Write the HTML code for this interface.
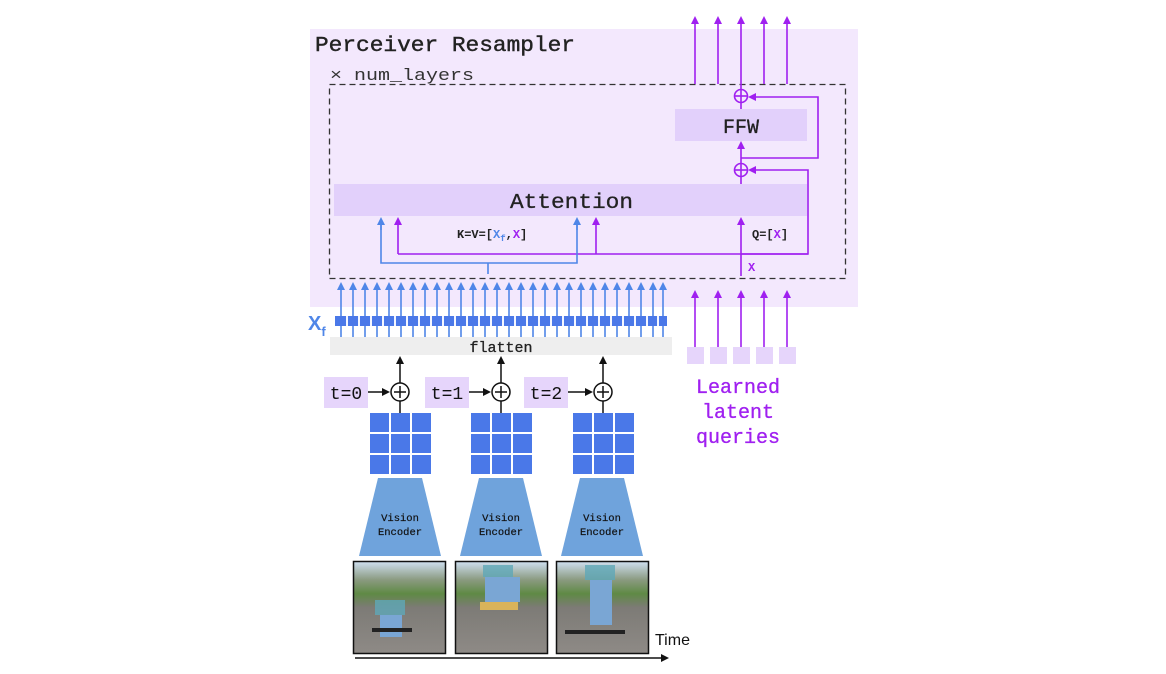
<!DOCTYPE html>
<html><head><meta charset="utf-8"><style>
html,body{margin:0;padding:0;background:#fff;}
svg{display:block;}
.m{font-family:"Liberation Mono","DejaVu Sans Mono",monospace;}
.s{font-family:"Liberation Sans","DejaVu Sans",sans-serif;}
</style></head><body>
<svg width="1166" height="674" viewBox="0 0 1166 674" xmlns="http://www.w3.org/2000/svg">
<defs>
<marker id="ap" markerWidth="8" markerHeight="8" refX="4" refY="4" orient="auto" markerUnits="userSpaceOnUse"><path d="M0,0 L8,4 L0,8 z" fill="#a020f0"/></marker>
<marker id="ab" markerWidth="8" markerHeight="8" refX="4" refY="4" orient="auto" markerUnits="userSpaceOnUse"><path d="M0,0 L8,4 L0,8 z" fill="#4f86e8"/></marker>
<marker id="ak" markerWidth="8" markerHeight="8" refX="4" refY="4" orient="auto" markerUnits="userSpaceOnUse"><path d="M0,0 L8,4 L0,8 z" fill="#111"/></marker>
<linearGradient id="ph" x1="0" y1="0" x2="0" y2="1">
<stop offset="0" stop-color="#cfdff0"/><stop offset="0.2" stop-color="#8a9a80"/><stop offset="0.35" stop-color="#5f8a45"/><stop offset="0.5" stop-color="#7d7b76"/><stop offset="1" stop-color="#8e8a86"/></linearGradient>
</defs>
<rect x="310" y="29" width="548" height="278" fill="#f3e8fd"/>
<text x="315" y="51" class="m" font-size="21" fill="#222" stroke="#222" stroke-width="0.4" textLength="260" lengthAdjust="spacingAndGlyphs">Perceiver Resampler</text>
<text x="330" y="80" class="m" font-size="17" fill="#333" textLength="144" lengthAdjust="spacingAndGlyphs">× num_layers</text>
<rect x="329.5" y="84.5" width="516" height="194" fill="none" stroke="#333" stroke-width="1.3" stroke-dasharray="6,4"/>
<rect x="675" y="109" width="132" height="32" fill="#e2d0fb"/>
<text x="741" y="133" class="m" font-size="20" text-anchor="middle" fill="#222" stroke="#222" stroke-width="0.3">FFW</text>
<rect x="334" y="184" width="473" height="32" fill="#e2d0fb"/>
<text x="510" y="208" class="m" font-size="21" fill="#222" stroke="#222" stroke-width="0.3" textLength="123" lengthAdjust="spacingAndGlyphs">Attention</text>
<g stroke="#a020f0" stroke-width="1.6" marker-end="url(#ap)">
<line x1="695" y1="84" x2="695" y2="20"/><line x1="718" y1="84" x2="718" y2="20"/>
<line x1="741" y1="90" x2="741" y2="20"/><line x1="764" y1="84" x2="764" y2="20"/><line x1="787" y1="84" x2="787" y2="20"/>
<line x1="741" y1="164" x2="741" y2="145"/>
<line x1="741" y1="276" x2="741" y2="221"/>
<line x1="398" y1="254" x2="398" y2="221"/>
<line x1="596" y1="254" x2="596" y2="221"/>
<polyline points="741,158 818,158 818,97 752,97" fill="none"/>
<polyline points="741,254 808,254 808,170 752,170" fill="none"/>
</g>
<g stroke="#a020f0" stroke-width="1.6" fill="none">
<line x1="741" y1="109" x2="741" y2="102"/>
<line x1="741" y1="184" x2="741" y2="176"/>
<line x1="398" y1="254" x2="808" y2="254"/>
<circle cx="741" cy="96" r="6.5"/><line x1="735" y1="96" x2="747" y2="96"/><line x1="741" y1="90" x2="741" y2="102"/>
<circle cx="741" cy="170" r="6.5"/><line x1="735" y1="170" x2="747" y2="170"/><line x1="741" y1="164" x2="741" y2="176"/>
</g>
<g stroke="#4f86e8" stroke-width="1.6" fill="none">
<polyline points="381,221 381,263 577,263 577,221"/>
<line x1="488" y1="263" x2="488" y2="274"/>
</g>
<g stroke="#4f86e8" stroke-width="1.6" marker-end="url(#ab)"><line x1="381" y1="230" x2="381" y2="221"/><line x1="577" y1="230" x2="577" y2="221"/></g>
<text x="457" y="238" class="m" font-size="12" font-weight="bold" fill="#222">K=V=[<tspan fill="#4f86e8">X</tspan><tspan fill="#4f86e8" font-size="9" dy="3">f</tspan><tspan dy="-3">,</tspan><tspan fill="#a020f0">X</tspan>]</text>
<text x="752" y="238" class="m" font-size="12" font-weight="bold" fill="#222">Q=[<tspan fill="#a020f0">X</tspan>]</text>
<text x="748" y="271" class="m" font-size="12" font-weight="bold" fill="#a020f0">X</text>
<g stroke="#4f86e8" stroke-width="1.6" marker-end="url(#ab)">
<line x1="341" y1="337" x2="341" y2="286"/><line x1="353" y1="337" x2="353" y2="286"/><line x1="365" y1="337" x2="365" y2="286"/><line x1="377" y1="337" x2="377" y2="286"/><line x1="389" y1="337" x2="389" y2="286"/><line x1="401" y1="337" x2="401" y2="286"/><line x1="413" y1="337" x2="413" y2="286"/><line x1="425" y1="337" x2="425" y2="286"/><line x1="437" y1="337" x2="437" y2="286"/><line x1="449" y1="337" x2="449" y2="286"/><line x1="461" y1="337" x2="461" y2="286"/><line x1="473" y1="337" x2="473" y2="286"/><line x1="485" y1="337" x2="485" y2="286"/><line x1="497" y1="337" x2="497" y2="286"/><line x1="509" y1="337" x2="509" y2="286"/><line x1="521" y1="337" x2="521" y2="286"/><line x1="533" y1="337" x2="533" y2="286"/><line x1="545" y1="337" x2="545" y2="286"/><line x1="557" y1="337" x2="557" y2="286"/><line x1="569" y1="337" x2="569" y2="286"/><line x1="581" y1="337" x2="581" y2="286"/><line x1="593" y1="337" x2="593" y2="286"/><line x1="605" y1="337" x2="605" y2="286"/><line x1="617" y1="337" x2="617" y2="286"/><line x1="629" y1="337" x2="629" y2="286"/><line x1="641" y1="337" x2="641" y2="286"/><line x1="653" y1="337" x2="653" y2="286"/><line x1="663" y1="337" x2="663" y2="286"/>
</g>
<rect x="335" y="316" width="332" height="10" fill="#4a78e8"/>
<g stroke="#f3f6ff" stroke-width="2">
<line x1="347" y1="316" x2="347" y2="326"/><line x1="359" y1="316" x2="359" y2="326"/><line x1="371" y1="316" x2="371" y2="326"/><line x1="383" y1="316" x2="383" y2="326"/><line x1="395" y1="316" x2="395" y2="326"/><line x1="407" y1="316" x2="407" y2="326"/><line x1="419" y1="316" x2="419" y2="326"/><line x1="431" y1="316" x2="431" y2="326"/><line x1="443" y1="316" x2="443" y2="326"/><line x1="455" y1="316" x2="455" y2="326"/><line x1="467" y1="316" x2="467" y2="326"/><line x1="479" y1="316" x2="479" y2="326"/><line x1="491" y1="316" x2="491" y2="326"/><line x1="503" y1="316" x2="503" y2="326"/><line x1="515" y1="316" x2="515" y2="326"/><line x1="527" y1="316" x2="527" y2="326"/><line x1="539" y1="316" x2="539" y2="326"/><line x1="551" y1="316" x2="551" y2="326"/><line x1="563" y1="316" x2="563" y2="326"/><line x1="575" y1="316" x2="575" y2="326"/><line x1="587" y1="316" x2="587" y2="326"/><line x1="599" y1="316" x2="599" y2="326"/><line x1="611" y1="316" x2="611" y2="326"/><line x1="623" y1="316" x2="623" y2="326"/><line x1="635" y1="316" x2="635" y2="326"/><line x1="647" y1="316" x2="647" y2="326"/><line x1="658" y1="316" x2="658" y2="326"/>
</g>
<text x="308" y="330" class="s" font-size="20" font-weight="bold" fill="#4f86e8">X<tspan font-size="13" dy="6">f</tspan></text>
<rect x="330" y="337" width="342" height="18" fill="#eeeeee"/>
<text x="501" y="352" class="m" font-size="15" text-anchor="middle" fill="#222" stroke="#222" stroke-width="0.3">flatten</text>
<g stroke="#a020f0" stroke-width="1.6" marker-end="url(#ap)">
<line x1="695" y1="348" x2="695" y2="294"/><line x1="718" y1="348" x2="718" y2="294"/><line x1="741" y1="348" x2="741" y2="294"/><line x1="764" y1="348" x2="764" y2="294"/><line x1="787" y1="348" x2="787" y2="294"/>
</g>
<g fill="#e6d5fb"><rect x="687" y="347" width="17" height="17"/><rect x="710" y="347" width="17" height="17"/><rect x="733" y="347" width="17" height="17"/><rect x="756" y="347" width="17" height="17"/><rect x="779" y="347" width="17" height="17"/></g>
<g class="m" font-size="20" fill="#a020f0" stroke="#a020f0" stroke-width="0.3" text-anchor="middle">
<text x="738" y="393">Learned</text><text x="738" y="418">latent</text><text x="738" y="443">queries</text></g>
<rect x="324" y="377" width="44" height="31" fill="#e6d5fb"/>
<text x="346" y="399" class="m" font-size="18" text-anchor="middle" fill="#111">t=0</text>
<rect x="425" y="377" width="44" height="31" fill="#e6d5fb"/>
<text x="447" y="399" class="m" font-size="18" text-anchor="middle" fill="#111">t=1</text>
<rect x="524" y="377" width="44" height="31" fill="#e6d5fb"/>
<text x="546" y="399" class="m" font-size="18" text-anchor="middle" fill="#111">t=2</text>
<g stroke="#111" stroke-width="1.5" fill="none">
<line x1="368" y1="392" x2="386" y2="392" marker-end="url(#ak)"/>
<line x1="469" y1="392" x2="487" y2="392" marker-end="url(#ak)"/>
<line x1="568" y1="392" x2="589" y2="392" marker-end="url(#ak)"/>
<line x1="400" y1="383" x2="400" y2="360" marker-end="url(#ak)"/>
<line x1="501" y1="383" x2="501" y2="360" marker-end="url(#ak)"/>
<line x1="603" y1="383" x2="603" y2="360" marker-end="url(#ak)"/>
<line x1="400" y1="401" x2="400" y2="413"/><line x1="501" y1="401" x2="501" y2="413"/><line x1="603" y1="401" x2="603" y2="413"/>
<circle cx="400" cy="392" r="9" fill="#fff"/><line x1="394" y1="392" x2="406" y2="392"/><line x1="400" y1="386" x2="400" y2="398"/>
<circle cx="501" cy="392" r="9" fill="#fff"/><line x1="495" y1="392" x2="507" y2="392"/><line x1="501" y1="386" x2="501" y2="398"/>
<circle cx="603" cy="392" r="9" fill="#fff"/><line x1="597" y1="392" x2="609" y2="392"/><line x1="603" y1="386" x2="603" y2="398"/>
</g>
<g fill="#4a78e8">
<rect x="370" y="413" width="19" height="19"/><rect x="391" y="413" width="19" height="19"/><rect x="412" y="413" width="19" height="19"/>
<rect x="370" y="434" width="19" height="19"/><rect x="391" y="434" width="19" height="19"/><rect x="412" y="434" width="19" height="19"/>
<rect x="370" y="455" width="19" height="19"/><rect x="391" y="455" width="19" height="19"/><rect x="412" y="455" width="19" height="19"/>
<rect x="471" y="413" width="19" height="19"/><rect x="492" y="413" width="19" height="19"/><rect x="513" y="413" width="19" height="19"/>
<rect x="471" y="434" width="19" height="19"/><rect x="492" y="434" width="19" height="19"/><rect x="513" y="434" width="19" height="19"/>
<rect x="471" y="455" width="19" height="19"/><rect x="492" y="455" width="19" height="19"/><rect x="513" y="455" width="19" height="19"/>
<rect x="573" y="413" width="19" height="19"/><rect x="594" y="413" width="19" height="19"/><rect x="615" y="413" width="19" height="19"/>
<rect x="573" y="434" width="19" height="19"/><rect x="594" y="434" width="19" height="19"/><rect x="615" y="434" width="19" height="19"/>
<rect x="573" y="455" width="19" height="19"/><rect x="594" y="455" width="19" height="19"/><rect x="615" y="455" width="19" height="19"/>
</g>
<g fill="#6fa3dc">
<polygon points="378,478 422,478 441,556 359,556"/>
<polygon points="479,478 523,478 542,556 460,556"/>
<polygon points="580,478 624,478 643,556 561,556"/>
</g>
<g class="m" font-size="10.5" fill="#111" stroke="#111" stroke-width="0.2" text-anchor="middle">
<text x="400" y="521">Vision</text><text x="400" y="535">Encoder</text>
<text x="501" y="521">Vision</text><text x="501" y="535">Encoder</text>
<text x="602" y="521">Vision</text><text x="602" y="535">Encoder</text>
</g>
<g stroke="#111" stroke-width="1.5" fill="url(#ph)">
<rect x="353.5" y="561.5" width="92" height="92"/>
<rect x="455.5" y="561.5" width="92" height="92"/>
<rect x="556.5" y="561.5" width="92" height="92"/>
</g>
<g fill="#5fa8b8" opacity="0.8"><rect x="375" y="600" width="30" height="15"/><rect x="483" y="565" width="30" height="12"/><rect x="585" y="565" width="30" height="15"/></g>
<g fill="#7aa6d4"><rect x="380" y="615" width="22" height="22"/><rect x="485" y="577" width="35" height="25"/><rect x="590" y="580" width="22" height="45"/></g>
<g fill="#222"><rect x="372" y="628" width="40" height="4"/><rect x="480" y="602" width="38" height="8" fill="#d9b35a"/><rect x="565" y="630" width="60" height="4"/></g>
<line x1="355" y1="658" x2="665" y2="658" stroke="#111" stroke-width="1.5" marker-end="url(#ak)"/>
<text x="655" y="645" class="s" font-size="16" fill="#111">Time</text>
</svg>
</body></html>
